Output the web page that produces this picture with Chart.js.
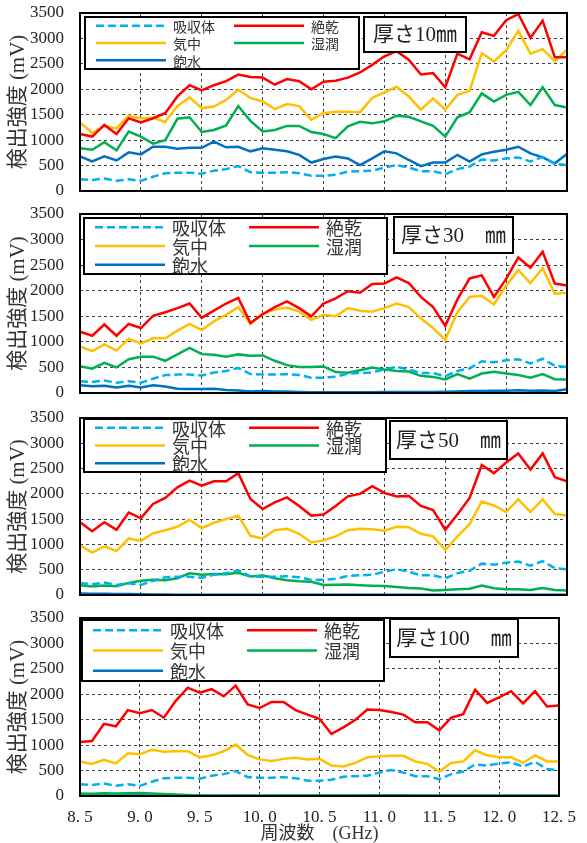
<!DOCTYPE html>
<html>
<head>
<meta charset="utf-8">
<script src="https://cdn.jsdelivr.net/npm/chart.js@4.4.1/dist/chart.umd.min.js"></script>
<style>
  body { margin: 0; background: #fff; width: 587px; height: 843px; position: relative; overflow: hidden; }
  .panel { position: absolute; left: 0; width: 587px; }
</style>
</head>
<body>
<div class="panel" style="top:0;height:201px"><canvas id="c10"></canvas></div>
<div class="panel" style="top:201px;height:202px"><canvas id="c30"></canvas></div>
<div class="panel" style="top:405px;height:200px"><canvas id="c50"></canvas></div>
<div class="panel" style="top:605px;height:238px"><canvas id="c100"></canvas></div>
<script>
// frequency steps (GHz)
const freq = [8.5, 8.6, 8.7, 8.8, 8.9, 9.0, 9.1, 9.2, 9.3, 9.4, 9.5, 9.6, 9.7, 9.8, 9.9,
  10.0, 10.1, 10.2, 10.3, 10.4, 10.5, 10.6, 10.7, 10.8, 10.9, 11.0, 11.1, 11.2, 11.3, 11.4,
  11.5, 11.6, 11.7, 11.8, 11.9, 12.0, 12.1, 12.2, 12.3, 12.4, 12.5];

const seriesNames = ['吸収体', '絶乾', '気中', '湿潤', '飽水'];
const seriesColors = ['#00b0f0', '#ff0000', '#ffc000', '#00b050', '#0070c0'];
const yTicks = [0, 500, 1000, 1500, 2000, 2500, 3000, 3500];

// absorber reference, same in every panel (mV)
const absorber = [230, 215, 245, 200, 230, 200, 280, 350, 360, 360, 340, 400, 430, 490, 370, 360, 360, 370, 350, 300,
  300, 320, 380, 390, 400, 460, 510, 460, 390, 390, 330, 430, 480, 620, 600, 640, 660, 580, 670, 530, 510];

// 10 mm
const dry10 = [1120, 1070, 1300, 1120, 1430, 1350, 1430, 1530, 1860, 2080, 1980, 2080, 2160, 2290, 2240, 2230, 2090, 2200, 2160, 2000,
  2150, 2170, 2230, 2330, 2480, 2650, 2750, 2580, 2290, 2320, 2040, 2700, 2590, 3120, 3050, 3360, 3480, 3010, 3350, 2630, 2630];
const air10 = [1350, 1140, 1280, 1230, 1480, 1430, 1440, 1360, 1670, 1840, 1630, 1660, 1790, 1990, 1830, 1760, 1610, 1710, 1670, 1400,
  1530, 1560, 1560, 1550, 1830, 1940, 2050, 1860, 1600, 1820, 1600, 1890, 1970, 2710, 2550, 2770, 3150, 2700, 2790, 2550, 2780];
const wet10 = [840, 810, 960, 800, 1170, 1070, 930, 1000, 1420, 1450, 1160, 1200, 1290, 1670, 1380, 1170, 1200, 1280, 1280, 1160,
  1120, 1040, 1270, 1360, 1330, 1370, 1480, 1460, 1370, 1280, 1070, 1450, 1550, 1920, 1760, 1890, 1950, 1690, 2040, 1690, 1640];
const sat10 = [680, 580, 680, 600, 760, 720, 870, 870, 830, 850, 850, 970, 860, 870, 780, 840, 810, 780, 710, 560,
  630, 680, 640, 510, 640, 780, 740, 610, 490, 560, 560, 710, 580, 720, 770, 810, 870, 740, 660, 545, 730];

// 30 mm
const dry30 = [1200, 1120, 1340, 1120, 1350, 1270, 1510, 1580, 1660, 1750, 1470, 1610, 1750, 1860, 1370, 1540, 1680, 1790, 1660, 1500,
  1750, 1850, 1990, 1960, 2130, 2140, 2260, 2150, 1880, 1680, 1310, 1830, 2240, 2300, 1880, 2230, 2650, 2450, 2760, 2140, 2100];
const air30 = [910, 820, 950, 830, 1060, 970, 1070, 1070, 1220, 1350, 1230, 1400, 1530, 1680, 1350, 1550, 1630, 1670, 1590, 1430,
  1530, 1500, 1660, 1610, 1590, 1660, 1750, 1680, 1460, 1270, 1040, 1580, 1880, 1900, 1730, 2100, 2400, 2150, 2440, 1940, 1960];
const wet30 = [525, 475, 590, 500, 660, 710, 710, 630, 755, 880, 760, 750, 710, 755, 730, 735, 630, 545, 510, 510,
  520, 410, 395, 445, 500, 460, 430, 420, 335, 315, 265, 370, 280, 380, 415, 380, 350, 300, 370, 270, 265];
const sat30 = [150, 130, 140, 110, 140, 110, 150, 125, 85, 80, 80, 85, 60, 50, 30, 40, 30, 30, 20, 15,
  15, 15, 15, 15, 15, 20, 20, 20, 20, 20, 25, 30, 40, 40, 45, 45, 55, 45, 50, 40, 75];

// 50 mm
const dry50 = [1440, 1260, 1440, 1290, 1630, 1520, 1800, 1920, 2130, 2260, 2160, 2250, 2250, 2410, 1900, 1700, 1830, 1930, 1760, 1570,
  1590, 1760, 1950, 2000, 2150, 2020, 1950, 1960, 1760, 1680, 1290, 1590, 1920, 2570, 2410, 2620, 2800, 2480, 2800, 2330, 2250];
const air50 = [980, 840, 960, 870, 1120, 1070, 1220, 1280, 1350, 1490, 1320, 1430, 1500, 1570, 1170, 1120, 1280, 1310, 1210, 1040,
  1080, 1160, 1280, 1310, 1300, 1270, 1350, 1340, 1210, 1160, 890, 1160, 1400, 1850, 1770, 1640, 1890, 1640, 1890, 1600, 1570];
const wet50 = [195, 170, 190, 175, 240, 280, 300, 290, 330, 430, 400, 415, 410, 440, 365, 385, 330, 290, 270, 260,
  200, 205, 210, 195, 185, 180, 160, 140, 130, 90, 100, 115, 125, 185, 135, 115, 115, 100, 140, 100, 90];
const sat50 = [30, 25, 25, 20, 20, 15, 10, 10, 5, 5, 5, 5, 5, 5, 5, 5, 5, 5, 5, 5,
  5, 5, 5, 5, 5, 5, 5, 5, 5, 5, 5, 5, 5, 5, 5, 5, 5, 5, 5, 5, 5];

// 100 mm
const dry100 = [1060, 1080, 1420, 1370, 1690, 1630, 1690, 1540, 1870, 2130, 2030, 2100, 1960, 2170, 1800, 1730, 1850, 1850, 1690, 1600,
  1520, 1220, 1350, 1500, 1700, 1690, 1650, 1600, 1450, 1450, 1290, 1540, 1610, 2090, 1830, 1940, 2060, 1820, 2060, 1760, 1780];
const air100 = [680, 630, 710, 640, 840, 820, 910, 870, 880, 880, 760, 800, 880, 1010, 810, 720, 690, 730, 750, 720,
  730, 600, 580, 650, 760, 780, 790, 790, 680, 630, 480, 650, 680, 900, 800, 760, 760, 650, 800, 680, 680];
const wet100 = [50, 45, 55, 50, 55, 60, 50, 40, 30, 20, 10, 5, 5, 5, 5, 5, 5, 10, 10, 10,
  10, 10, 10, 10, 15, 15, 15, 15, 10, 10, 5, 5, 5, 5, 5, 5, 5, 5, 5, 5, 5];
const sat100 = [10, 10, 10, 10, 10, 10, 10, 10, 10, 10, 5, 5, 5, 10, 10, 5, 5, 5, 5, 5,
  5, 5, 5, 5, 5, 5, 5, 5, 5, 5, 5, 5, 5, 5, 5, 5, 5, 5, 5, 5, 5];

const SERIF = '"Liberation Serif", "Noto Sans CJK JP", serif';
const JP = '"Noto Sans CJK JP", sans-serif';

// per panel: legend box and thickness tag, offsets from the plot area corner
const panels = [
  { id: 'c10', tag: '厚さ10㎜', series: [absorber, dry10, air10, wet10, sat10],
    legend: { dx: 5, dy: 4, w: 274, h: 52, font: 14 }, tagBox: { dx: 284, dy: 4, w: 102, h: 35 } },
  { id: 'c30', tag: '厚さ30　㎜', series: [absorber, dry30, air30, wet30, sat30],
    legend: { dx: 4, dy: 4, w: 303, h: 56, font: 18 }, tagBox: { dx: 314, dy: 3, w: 119, h: 36 } },
  { id: 'c50', tag: '厚さ50　㎜', series: [absorber, dry50, air50, wet50, sat50],
    legend: { dx: 4, dy: 1, w: 302, h: 53, font: 18 }, tagBox: { dx: 310, dy: 3, w: 117, h: 38 } },
  { id: 'c100', tag: '厚さ100　㎜', series: [absorber, dry100, air100, wet100, sat100],
    legend: { dx: 2, dy: 2, w: 302, h: 61, font: 18 }, tagBox: { dx: 310, dy: 1, w: 128, h: 38 }, bottom: true }
];

function panelDecor(p) {
  return {
    id: 'panelDecor',
    afterDatasetsDraw(chart) {
      const ctx = chart.ctx;
      const a = chart.chartArea;
      ctx.save();
      ctx.setLineDash([]);
      ctx.lineWidth = 2;
      ctx.strokeStyle = '#000';
      ctx.strokeRect(a.left, a.top, a.right - a.left, a.bottom - a.top);

      // legend box, two columns
      const L = p.legend;
      const bx = a.left + L.dx, by = a.top + L.dy;
      ctx.fillStyle = '#fff';
      ctx.fillRect(bx, by, L.w, L.h);
      ctx.strokeRect(bx, by, L.w, L.h);
      ctx.font = L.font + 'px ' + JP;
      ctx.textBaseline = 'middle';
      ctx.textAlign = 'left';
      chart.data.datasets.forEach(function(ds, i) {
        const col = i % 2, row = Math.floor(i / 2);
        const x0 = bx + (col ? Math.round(L.w * 0.545) : 11);
        const y = by + L.h * (2 * row + 1) / 6;
        ctx.strokeStyle = ds.borderColor;
        ctx.lineWidth = ds.borderWidth;
        ctx.setLineDash(ds.borderDash || []);
        ctx.beginPath();
        ctx.moveTo(x0, y);
        ctx.lineTo(x0 + 70, y);
        ctx.stroke();
        ctx.fillStyle = '#333';
        ctx.fillText(ds.label, x0 + 77, y + 1);
      });

      // thickness tag
      const T = p.tagBox;
      const tx = a.left + T.dx, ty = a.top + T.dy;
      ctx.setLineDash([]);
      ctx.lineWidth = 2;
      ctx.strokeStyle = '#000';
      ctx.fillStyle = '#fff';
      ctx.fillRect(tx, ty, T.w, T.h);
      ctx.strokeRect(tx, ty, T.w, T.h);
      ctx.fillStyle = '#222';
      ctx.font = '21px ' + SERIF;
      ctx.textAlign = 'center';
      ctx.fillText(p.tag, tx + T.w / 2, ty + T.h / 2 + 1);
      ctx.restore();
    }
  };
}

function drawPanel(p) {
  const datasets = seriesNames.map(function(name, i) {
    return {
      label: name,
      data: freq.map(function(f, j) { return { x: f, y: p.series[i][j] }; }),
      borderColor: seriesColors[i],
      backgroundColor: seriesColors[i],
      borderWidth: 2.5,
      borderDash: i === 0 ? [8, 4] : [],
      pointRadius: 0,
      tension: 0,
      fill: false
    };
  });

  new Chart(document.getElementById(p.id), {
    type: 'line',
    data: { datasets: datasets },
    options: {
      responsive: true,
      maintainAspectRatio: false,
      animation: false,
      events: [],
      layout: { padding: { top: 13, bottom: p.bottom ? 0 : 10, left: 0, right: 20 } },
      plugins: { legend: { display: false }, tooltip: { enabled: false } },
      scales: {
        x: {
          type: 'linear',
          min: 8.5,
          max: 12.5,
          grid: { color: '#404040', lineWidth: 1, drawTicks: false },
          border: { display: false, dash: [3, 3] },
          ticks: {
            display: !!p.bottom,
            stepSize: 0.5,
            padding: 11,
            color: '#222',
            font: { family: SERIF, size: 17 },
            callback: function(v) { return v.toFixed(1).replace('.', '. '); }
          },
          title: {
            display: !!p.bottom,
            text: '周波数　(GHz)',
            color: '#333',
            font: { family: SERIF, size: 18 },
            padding: { top: 0, bottom: -2 }
          },
          afterFit: function(scale) {
            scale.height = p.bottom ? 47 : 0;
            if (!p.bottom) { scale.paddingLeft = 0; scale.paddingRight = 0; }
          }
        },
        y: {
          min: yTicks[0],
          max: yTicks[yTicks.length - 1],
          grid: { color: '#404040', lineWidth: 1, drawTicks: false },
          border: { display: false, dash: [3, 3] },
          ticks: {
            stepSize: 500,
            padding: 16,
            color: '#222',
            font: { family: SERIF, size: 17 },
            callback: function(v) { return String(v); }
          },
          title: {
            display: true,
            text: '検出強度 (mV)',
            color: '#333',
            font: { family: SERIF, size: 21 },
            padding: { top: 6, bottom: 0 }
          },
          afterFit: function(scale) {
            scale.width = 80;
            scale.paddingTop = 0;
            scale.paddingBottom = 0;
          }
        }
      }
    },
    plugins: [panelDecor(p)]
  });
}

panels.forEach(drawPanel);
</script>
</body>
</html>
